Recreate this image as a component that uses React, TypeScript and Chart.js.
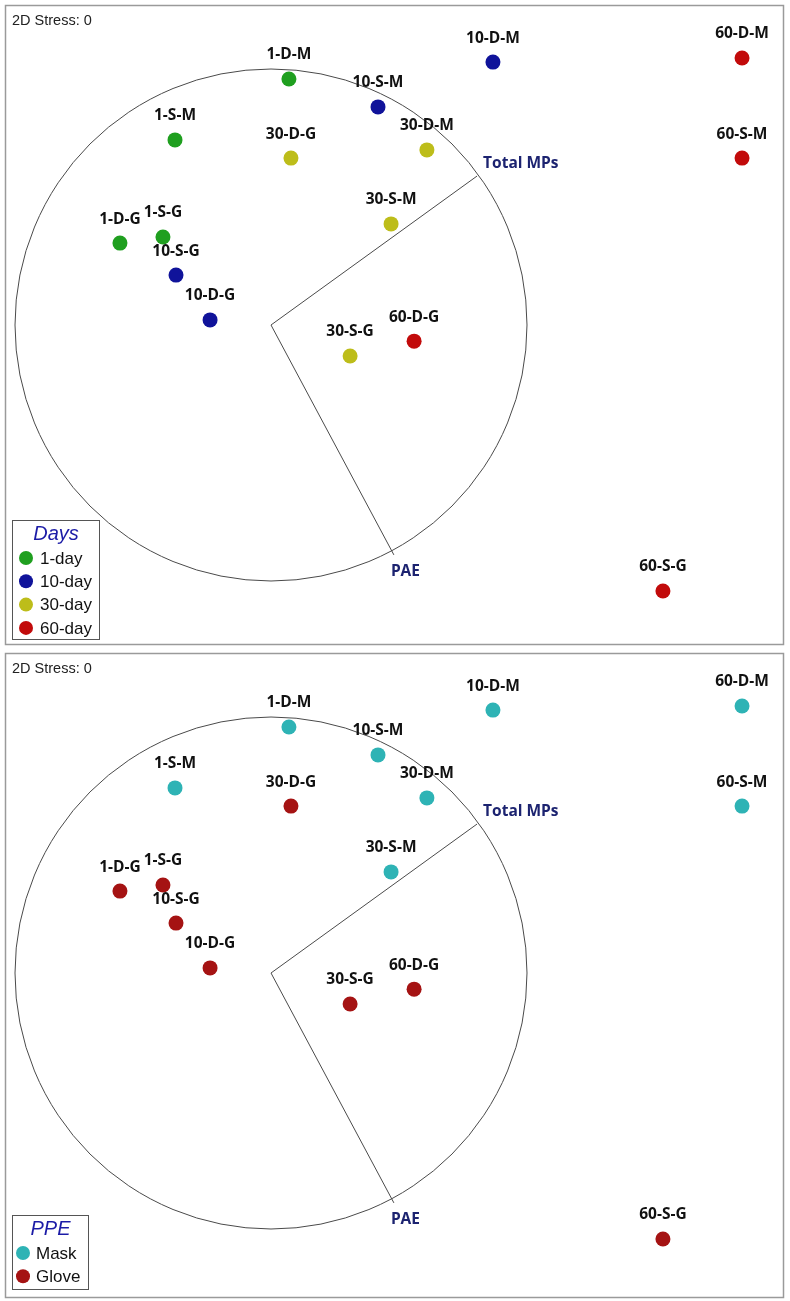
import React, { useEffect, useRef } from "react";
import { Chart, registerables } from "chart.js";
Chart.register(...registerables);

// ---- data (NMDS coordinates, circle of radius 1 centred at origin) ----
const sampleNames = ["1-D-M", "1-S-M", "1-D-G", "1-S-G", "10-D-M", "10-S-M", "10-S-G", "10-D-G", "30-D-G", "30-D-M", "30-S-M", "30-S-G", "60-D-M", "60-S-M", "60-D-G", "60-S-G"];
const sampleX = [0.070, -0.375, -0.590, -0.422, 0.867, 0.418, -0.371, -0.238, 0.078, 0.609, 0.469, 0.309, 1.840, 1.840, 0.559, 1.531];
const sampleY = [0.961, 0.723, 0.320, 0.344, 1.027, 0.852, 0.195, 0.020, 0.652, 0.684, 0.395, -0.121, 1.043, 0.652, -0.063, -1.039];
const sampleDays = [1, 1, 1, 1, 10, 10, 10, 10, 30, 30, 30, 30, 60, 60, 60, 60];
const samplePPE = ["Mask", "Mask", "Glove", "Glove", "Mask", "Mask", "Glove", "Glove", "Glove", "Mask", "Mask", "Glove", "Mask", "Mask", "Glove", "Glove"];

const dayGroups = [1, 10, 30, 60];
const dayLabels = ["1-day", "10-day", "30-day", "60-day"];
const dayColors = ["#1f9f1f", "#10139a", "#bdbd1a", "#c20b0b"];

const ppeGroups = ["Mask", "Glove"];
const ppeLabels = ["Mask", "Glove"];
const ppeColors = ["#2eb3b5", "#a51313"];

const vectorNames = ["Total MPs", "PAE"];
const vectorX = [0.805, 0.48];
const vectorY = [0.582, -0.898];

const stressText = "2D Stress: 0";

// ---- chart building ----
type Mode = "days" | "ppe";

function buildDatasets(mode: Mode) {
  const groups: any[] = mode === "days" ? dayGroups : ppeGroups;
  const labels = mode === "days" ? dayLabels : ppeLabels;
  const colors = mode === "days" ? dayColors : ppeColors;
  return groups.map((g, gi) => {
    const data: any[] = [];
    sampleNames.forEach((n, i) => {
      const key = mode === "days" ? sampleDays[i] : samplePPE[i];
      if (key === g) data.push({ x: sampleX[i], y: sampleY[i], name: n });
    });
    return {
      label: labels[gi],
      data,
      backgroundColor: colors[gi],
      borderColor: colors[gi],
      borderWidth: 0,
      pointRadius: 7.5,
      pointHoverRadius: 7.5,
    };
  });
}

function decorPlugin(mode: Mode) {
  return {
    id: "nmdsDecor",
    beforeDatasetsDraw(chart: any) {
      const ctx = chart.ctx;
      const xs = chart.scales.x;
      const ys = chart.scales.y;
      const cx = xs.getPixelForValue(0);
      const cy = ys.getPixelForValue(0);
      const r = xs.getPixelForValue(1) - cx;
      ctx.save();
      ctx.strokeStyle = "#4a4a4a";
      ctx.lineWidth = 1;
      ctx.beginPath();
      ctx.arc(cx, cy, r, 0, Math.PI * 2);
      ctx.stroke();
      vectorNames.forEach((_, i) => {
        ctx.beginPath();
        ctx.moveTo(cx, cy);
        ctx.lineTo(xs.getPixelForValue(vectorX[i]), ys.getPixelForValue(vectorY[i]));
        ctx.stroke();
      });
      ctx.restore();
    },
    afterDatasetsDraw(chart: any) {
      const ctx = chart.ctx;
      const xs = chart.scales.x;
      const ys = chart.scales.y;
      ctx.save();
      // sample labels
      ctx.fillStyle = "#111111";
      ctx.font = "bold 15.5px 'Open Sans', sans-serif";
      ctx.textAlign = "center";
      ctx.textBaseline = "middle";
      chart.data.datasets.forEach((ds: any, di: number) => {
        const meta = chart.getDatasetMeta(di);
        meta.data.forEach((el: any, j: number) => {
          ctx.fillText(ds.data[j].name, el.x, el.y - 24);
        });
      });
      // vector labels
      ctx.fillStyle = "#1c2370";
      ctx.textAlign = "left";
      vectorNames.forEach((n, i) => {
        const px = xs.getPixelForValue(vectorX[i]);
        const py = ys.getPixelForValue(vectorY[i]);
        if (vectorY[i] > 0) ctx.fillText(n, px + 6, py - 12);
        else ctx.fillText(n, px - 3, py + 17);
      });
      // stress
      ctx.fillStyle = "#222222";
      ctx.font = "14.5px 'Liberation Sans', Arial, sans-serif";
      ctx.fillText(stressText, 12, 21);
      // panel border
      ctx.strokeStyle = "#9a9a9a";
      ctx.lineWidth = 1.5;
      ctx.strokeRect(5.5, 5.5, 778, chart.height - 9);
      // legend
      const labels = mode === "days" ? dayLabels : ppeLabels;
      const colors = mode === "days" ? dayColors : ppeColors;
      const title = mode === "days" ? "Days" : "PPE";
      const boxW = mode === "days" ? 87 : 76;
      const boxH = mode === "days" ? 119 : 74;
      const boxTop = mode === "days" ? 520 : 567;
      const boxLeft = 12;
      ctx.fillStyle = "#ffffff";
      ctx.fillRect(boxLeft, boxTop, boxW, boxH);
      ctx.strokeStyle = "#555555";
      ctx.lineWidth = 1;
      ctx.strokeRect(boxLeft + 0.5, boxTop + 0.5, boxW, boxH);
      ctx.fillStyle = "#1b1ba6";
      ctx.font = "italic 20px 'Liberation Sans', Arial, sans-serif";
      ctx.textAlign = "center";
      ctx.fillText(title, boxLeft + boxW / 2 + 0.5, boxTop + 14);
      const dotX = mode === "days" ? 26 : 23;
      const textX = mode === "days" ? 40 : 36;
      labels.forEach((l, i) => {
        const y = boxTop + 38 + i * 23.3;
        ctx.fillStyle = colors[i];
        ctx.beginPath();
        ctx.arc(dotX, y, 7, 0, Math.PI * 2);
        ctx.fill();
        ctx.fillStyle = "#111111";
        ctx.textAlign = "left";
        ctx.font = "17px 'Liberation Sans', Arial, sans-serif";
        ctx.fillText(l, textX, y + 1);
      });
      ctx.restore();
    },
  };
}

const PX_PER_UNIT = 256;
const ORIGIN_PX_X = 271;
const ORIGIN_PX_Y = 325;

function Panel({ mode, width, height }: { mode: Mode; width: number; height: number }) {
  const ref = useRef<HTMLCanvasElement | null>(null);
  useEffect(() => {
    if (!ref.current) return;
    const chart = new Chart(ref.current, {
      type: "scatter",
      data: { datasets: buildDatasets(mode) as any },
      options: {
        animation: false,
        responsive: false,
        devicePixelRatio: 1,
        layout: { padding: 0, autoPadding: false },
        events: [],
        plugins: { legend: { display: false }, tooltip: { enabled: false } },
        scales: {
          x: {
            type: "linear",
            display: false,
            min: -ORIGIN_PX_X / PX_PER_UNIT,
            max: (width - ORIGIN_PX_X) / PX_PER_UNIT,
          },
          y: {
            type: "linear",
            display: false,
            min: (ORIGIN_PX_Y - height) / PX_PER_UNIT,
            max: ORIGIN_PX_Y / PX_PER_UNIT,
          },
        },
      },
      plugins: [decorPlugin(mode) as any],
    });
    return () => chart.destroy();
  }, [mode, width, height]);
  return <canvas ref={ref} width={width} height={height} style={{ display: "block", width, height }} />;
}

export default function App() {
  return (
    <div style={{ position: "absolute", left: 0, top: 0, width: 790, height: 1301, background: "#ffffff" }}>
      <Panel mode="days" width={790} height={648} />
      <Panel mode="ppe" width={790} height={653} />
    </div>
  );
}
